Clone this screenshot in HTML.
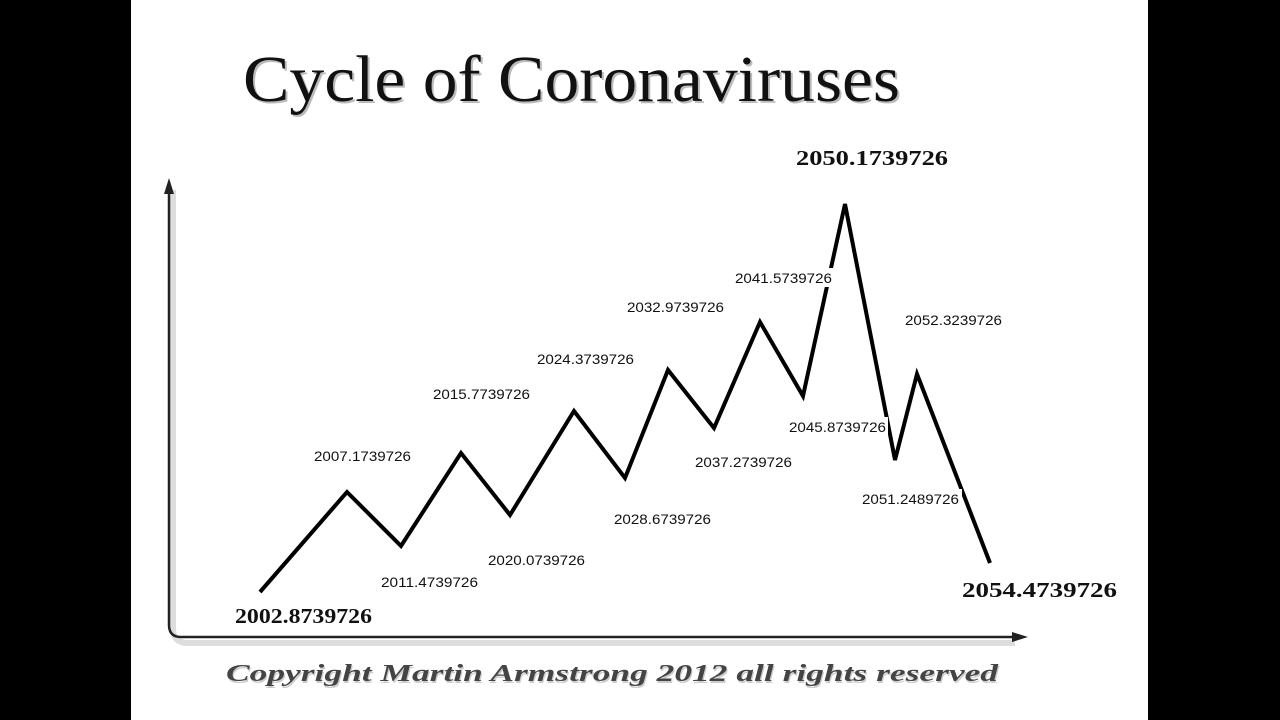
<!DOCTYPE html>
<html><head><style>
body{margin:0;width:1280px;height:720px;background:#000;overflow:hidden}
svg{display:block}
</style></head><body>
<svg width="1280" height="720" xmlns="http://www.w3.org/2000/svg">
<rect x="0" y="0" width="1280" height="720" fill="#000"/>
<rect x="131" y="0" width="1017" height="720" fill="#fff"/>
<text x="243" y="101" font-family="Liberation Serif,serif" font-size="66" fill="#bbb" transform="translate(2,2)" textLength="657" lengthAdjust="spacingAndGlyphs">Cycle of Coronaviruses</text>
<text x="243" y="101" font-family="Liberation Serif,serif" font-size="66" fill="#111" textLength="657" lengthAdjust="spacingAndGlyphs">Cycle of Coronaviruses</text>
<path d="M173,190 V628 Q173,643 188,643 H1015" stroke="#ddd" stroke-width="6" fill="none"/>
<path d="M169,190 V625 Q169,637 181,637 H1015" stroke="#222" stroke-width="2.5" fill="none"/>
<polygon points="169,178 164,194 174,194" fill="#222"/>
<polygon points="1028,637 1012,632 1012,642" fill="#222"/>
<polyline points="260,592 347,492 401,546 461,453 510,515 574,411 625,478 668,370 714,428 760,322 803,396 845,204 895,460 917,374 990,563" stroke="#000" stroke-width="4" fill="none"/>
<g font-family="Liberation Sans,sans-serif" font-size="14" fill="#111">
<text x="314" y="461" textLength="97" lengthAdjust="spacingAndGlyphs">2007.1739726</text>
<text x="381" y="587" textLength="97" lengthAdjust="spacingAndGlyphs">2011.4739726</text>
<text x="433" y="399" textLength="97" lengthAdjust="spacingAndGlyphs">2015.7739726</text>
<text x="488" y="565" textLength="97" lengthAdjust="spacingAndGlyphs">2020.0739726</text>
<text x="537" y="364" textLength="97" lengthAdjust="spacingAndGlyphs">2024.3739726</text>
<text x="614" y="524" textLength="97" lengthAdjust="spacingAndGlyphs">2028.6739726</text>
<text x="627" y="312" textLength="97" lengthAdjust="spacingAndGlyphs">2032.9739726</text>
<text x="695" y="467" textLength="97" lengthAdjust="spacingAndGlyphs">2037.2739726</text>
<rect x="734" y="268" width="100" height="19" fill="#fff"/>
<text x="735" y="283" textLength="97" lengthAdjust="spacingAndGlyphs">2041.5739726</text>
<rect x="788" y="417" width="100" height="19" fill="#fff"/>
<text x="789" y="432" textLength="97" lengthAdjust="spacingAndGlyphs">2045.8739726</text>
<text x="905" y="325" textLength="97" lengthAdjust="spacingAndGlyphs">2052.3239726</text>
<rect x="862" y="489" width="100" height="20" fill="#fff"/>
<text x="862" y="504" textLength="97" lengthAdjust="spacingAndGlyphs">2051.2489726</text>
</g>
<g font-family="Liberation Serif,serif" font-size="21" font-weight="bold" fill="#111">
<text x="235" y="623" textLength="137" lengthAdjust="spacingAndGlyphs">2002.8739726</text>
<text x="796" y="165" textLength="152" lengthAdjust="spacingAndGlyphs">2050.1739726</text>
<text x="962" y="597" textLength="155" lengthAdjust="spacingAndGlyphs">2054.4739726</text>
</g>
<text x="226" y="681" font-family="Liberation Serif,serif" font-size="24" font-style="italic" font-weight="bold" fill="#ccc" transform="translate(1,2)" textLength="772" lengthAdjust="spacingAndGlyphs">Copyright Martin Armstrong 2012 all rights reserved</text>
<text x="226" y="681" font-family="Liberation Serif,serif" font-size="24" font-style="italic" font-weight="bold" fill="#444" textLength="772" lengthAdjust="spacingAndGlyphs">Copyright Martin Armstrong 2012 all rights reserved</text>
</svg>
</body></html>
